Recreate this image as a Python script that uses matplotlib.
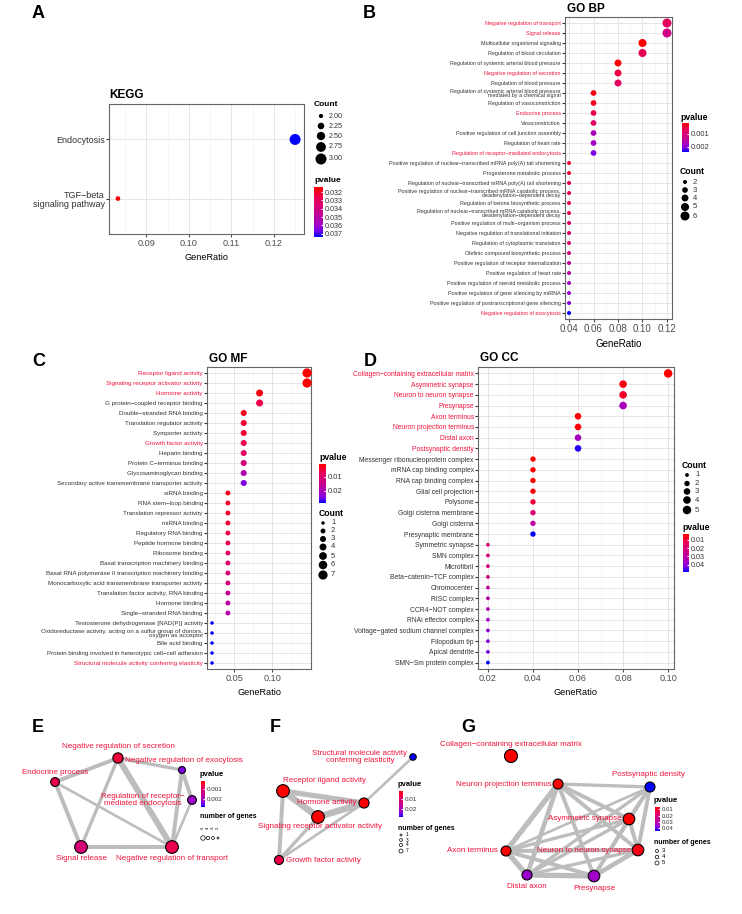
import numpy as np
import matplotlib
matplotlib.use('Agg')
import matplotlib.pyplot as plt
from matplotlib.colors import LinearSegmentedColormap, Normalize
import matplotlib.cm as cm

plt.rcParams['font.family'] = ['Liberation Sans', 'DejaVu Sans']

W, H = 742, 914
RED = '#f0143c'
cmap = LinearSegmentedColormap.from_list(
    'pv', [(0, '#ff0000'), (0.25, '#e6005f'), (0.5, '#c8008c'),
           (0.75, '#a000c8'), (0.875, '#7800e6'), (1, '#0000ff')])

# ---------------- data ----------------
kegg_terms = ['Endocytosis', 'TGF−beta\nsignaling pathway']
kegg_ratio = [0.125, 0.0833]
kegg_count = [3, 2]
kegg_p = [0.0374, 0.0314]

bp_terms = [
    'Negative regulation of transport', 'Signal release',
    'Multicellular organismal signaling', 'Regulation of blood circulation',
    'Regulation of systemic arterial blood pressure', 'Negative regulation of secretion',
    'Regulation of blood pressure',
    'Regulation of systemic arterial blood pressure\nmediated by a chemical signal',
    'Regulation of vasoconstriction', 'Endocrine process', 'Vasoconstriction',
    'Positive regulation of cell junction assembly', 'Regulation of heart rate',
    'Regulation of receptor−mediated endocytosis',
    'Positive regulation of nuclear−transcribed mRNA poly(A) tail shortening',
    'Progesterone metabolic process',
    'Regulation of nuclear−transcribed mRNA poly(A) tail shortening',
    'Positive regulation of nuclear−transcribed mRNA catabolic process,\ndeadenylation−dependent decay',
    'Regulation of ketone biosynthetic process',
    'Regulation of nuclear−transcribed mRNA catabolic process,\ndeadenylation−dependent decay',
    'Positive regulation of multi−organism process',
    'Negative regulation of translational initiation',
    'Regulation of cytoplasmic translation', 'Olefinic compound biosynthetic process',
    'Positive regulation of receptor internalization', 'Positive regulation of heart rate',
    'Positive regulation of steroid metabolic process',
    'Positive regulation of gene silencing by miRNA',
    'Positive regulation of postranscriptional gene silencing',
    'Negative regulation of exocytosis']
bp_count = [6, 6, 5, 5, 4, 4, 4, 3, 3, 3, 3, 3, 3, 3] + [2] * 16
bp_ratio = [c / 50 for c in bp_count]
bp_p = [0.00075, 0.0012, 0.0002, 0.0007, 0.0002, 0.0006, 0.0008, 0.0003, 0.0004,
        0.0007, 0.0008, 0.0017, 0.0018, 0.0021, 0.0005, 0.0005, 0.0006, 0.0006,
        0.0007, 0.0007, 0.0008, 0.0008, 0.0009, 0.0011, 0.0014, 0.0015, 0.0018,
        0.0019, 0.0020, 0.0024]
bp_red = ['Negative regulation of transport', 'Signal release',
          'Negative regulation of secretion', 'Endocrine process',
          'Regulation of receptor−mediated endocytosis',
          'Negative regulation of exocytosis']

mf_terms = [
    'Receptor ligand activity', 'Signaling receptor activator activity',
    'Hormone activity', 'G protein−coupled receptor binding',
    'Double−stranded RNA binding', 'Translation regulator activity',
    'Symporter activity', 'Growth factor activity', 'Heparin binding',
    'Protein C−terminus binding', 'Glycosaminoglycan binding',
    'Secondary active transmembrane transporter activity', 'siRNA binding',
    'RNA stem−loop binding', 'Translation repressor activity', 'miRNA binding',
    'Regulatory RNA binding', 'Peptide hormone binding', 'Ribosome binding',
    'Basal transcription machinery binding',
    'Basal RNA polymerase II transcription machinery binding',
    'Monocarboxylic acid transmembrane transporter activity',
    'Translation factor activity, RNA binding', 'Hormone binding',
    'Single−stranded RNA binding', 'Testosterone dehydrogenase [NAD(P)] activity',
    'Oxidoreductase activity, acting on a sulfur group of donors,\noxygen as acceptor',
    'Bile acid binding', 'Protein binding involved in heterotypic cell−cell adhesion',
    'Structural molecule activity conferring elasticity']
mf_count = [7, 7, 4, 4] + [3] * 8 + [2] * 13 + [1] * 5
mf_ratio = [c / 48 for c in mf_count]
mf_p = [0.0007, 0.0008, 0.002, 0.006, 0.003, 0.005, 0.005, 0.007, 0.008, 0.012,
        0.019, 0.025, 0.003, 0.004, 0.004, 0.005, 0.006, 0.007, 0.009, 0.010,
        0.011, 0.012, 0.016, 0.017, 0.018, 0.029, 0.029, 0.029, 0.029, 0.029]
mf_red = ['Receptor ligand activity', 'Signaling receptor activator activity',
          'Hormone activity', 'Growth factor activity',
          'Structural molecule activity conferring elasticity']

cc_terms = [
    'Collagen−containing extracellular matrix', 'Asymmetric synapse',
    'Neuron to neuron synapse', 'Presynapse', 'Axon terminus',
    'Neuron projection terminus', 'Distal axon', 'Postsynaptic density',
    'Messenger ribonucleoprotein complex', 'mRNA cap binding complex',
    'RNA cap binding complex', 'Glial cell projection', 'Polysome',
    'Golgi cisterna membrane', 'Golgi cisterna', 'Presynaptic membrane',
    'Symmetric synapse', 'SMN complex', 'Microfibril', 'Beta−catenin−TCF complex',
    'Chromocenter', 'RISC complex', 'CCR4−NOT complex', 'RNAi effector complex',
    'Voltage−gated sodium channel complex', 'Filopodium tip', 'Apical dendrite',
    'SMN−Sm protein complex']
cc_count = [5, 4, 4, 4, 3, 3, 3, 3] + [2] * 8 + [1] * 12
cc_ratio = [c / 50 for c in cc_count]
cc_p = [0.003, 0.006, 0.008, 0.035, 0.004, 0.004, 0.036, 0.047, 0.003, 0.003,
        0.003, 0.004, 0.010, 0.018, 0.030, 0.049, 0.020, 0.021, 0.023, 0.025,
        0.029, 0.032, 0.034, 0.036, 0.039, 0.041, 0.043, 0.049]
cc_red = cc_terms[:8]

# networks: node names, layout (panel pixels), edges with widths
e_nodes = ['Negative regulation of secretion', 'Negative regulation of exocytosis',
           'Endocrine process', 'Regulation of receptor−\nmediated endocytosis',
           'Signal release', 'Negative regulation of transport']
e_count = [4, 2, 3, 3, 6, 6]
e_p = [0.0006, 0.0024, 0.0007, 0.0021, 0.0012, 0.00075]
e_x = [118, 182, 55, 192, 81, 172]
e_y = [38, 50, 62, 80, 127, 127]
e_edges = [(0, 2, 3), (0, 4, 2.5), (0, 5, 4.5), (0, 1, 2.5), (2, 4, 3), (2, 5, 2),
           (4, 5, 3), (1, 5, 3), (1, 3, 3), (3, 5, 2)]

f_nodes = ['Structural molecule activity\nconferring elasticity', 'Receptor ligand activity',
           'Hormone activity', 'Signaling receptor activator activity',
           'Growth factor activity']
f_count = [1, 7, 4, 7, 3]
f_p = [0.029, 0.0007, 0.002, 0.0008, 0.007]
f_x = [173, 43, 124, 78, 39]
f_y = [37, 71, 83, 97, 140]
f_edges = [(1, 3, 5), (1, 2, 4), (2, 3, 5), (1, 4, 3), (3, 4, 2.5), (2, 4, 2),
           (2, 0, 2)]

g_nodes = ['Collagen−containing extracellular matrix', 'Neuron projection terminus',
           'Postsynaptic density', 'Asymmetric synapse', 'Axon terminus',
           'Neuron to neuron synapse', 'Distal axon', 'Presynapse']
g_count = [5, 3, 3, 4, 3, 4, 3, 4]
g_p = [0.003, 0.004, 0.047, 0.006, 0.004, 0.008, 0.036, 0.035]
g_x = [81, 128, 220, 199, 76, 208, 97, 164]
g_y = [36, 64, 67, 99, 131, 130, 155, 156]
g_edges = [(1, 2, 2.5), (1, 3, 3), (1, 4, 4), (1, 5, 3), (1, 6, 3.5), (1, 7, 3),
           (2, 3, 3), (2, 4, 2), (2, 5, 3), (2, 6, 2.5), (2, 7, 2.5), (3, 4, 2.5),
           (3, 5, 3), (3, 6, 2.5), (3, 7, 3), (4, 5, 3), (4, 6, 4), (4, 7, 3),
           (5, 6, 2.5), (5, 7, 3.5), (6, 7, 4)]

# ---------------- figure ----------------
fig = plt.figure(figsize=(W / 100, H / 100), dpi=100)


def px_axes(x0, y0, x1, y1):
    return fig.add_axes([x0 / W, 1 - y1 / H, (x1 - x0) / W, (y1 - y0) / H])


def dot_area(count, cmin, cmax, dmin, dmax):
    frac = (np.asarray(count, float) - cmin) / (cmax - cmin)
    d = np.sqrt(dmin ** 2 + frac * (dmax ** 2 - dmin ** 2))
    return (d * 0.72) ** 2


def dotplot(box, terms, ratio, count, pval, red, xlim, xticks, minor, fs, tfs, sz, ls=0.75):
    ax = px_axes(*box)
    n = len(terms)
    y = n - 1 - np.arange(n)
    norm = Normalize(min(pval), max(pval))
    ax.scatter(ratio, y, s=dot_area(count, *sz), c=pval, cmap=cmap, norm=norm,
               lw=0, zorder=3, clip_on=False)
    ax.set_xlim(*xlim)
    ax.set_ylim(-0.6, n - 0.4)
    ax.set_yticks(y)
    ax.set_yticklabels(terms, fontsize=fs, linespacing=ls)
    for lab, t in zip(ax.get_yticklabels(), terms):
        lab.set_color(RED if t in red else '#333333')
    ax.set_xticks(xticks)
    ax.set_xticks(minor, minor=True)
    ax.tick_params(axis='x', which='minor', length=0)
    ax.tick_params(axis='y', length=2, pad=1, color='#333333')
    ax.tick_params(axis='x', length=2, pad=1.5, labelsize=tfs, colors='#4d4d4d')
    ax.grid(which='major', color='#e6e6e6', lw=0.7)
    ax.grid(which='minor', axis='x', color='#f2f2f2', lw=0.4)
    ax.set_axisbelow(True)
    for s in ax.spines.values():
        s.set_color('#666666')
        s.set_linewidth(0.8)
    ax.set_xlabel('GeneRatio', fontsize=tfs, labelpad=4)
    return norm


def cbar(box, norm, ticks, labels, fs):
    cax = px_axes(*box)
    cb = fig.colorbar(cm.ScalarMappable(norm=norm, cmap=cmap), cax=cax)
    cb.outline.set_visible(False)
    cax.invert_yaxis()
    cb.set_ticks(ticks)
    cb.set_ticklabels(labels)
    cax.tick_params(length=1.5, direction='in', color='white', labelsize=fs, pad=1.5,
                    labelcolor='#333333')


ov = fig.add_axes([0, 0, 1, 1], zorder=10)
ov.set_xlim(0, W)
ov.set_ylim(H, 0)
ov.axis('off')


def size_legend(x, ys, counts, labels, sz, lx, fs):
    ov.scatter([x] * len(ys), ys, s=dot_area(counts, *sz), color='black', lw=0)
    for yy, lb in zip(ys, labels):
        ov.text(lx, yy, lb, fontsize=fs, va='center', color='#333333')


# Panel A
nA = dotplot((109, 104, 304, 234), kegg_terms, kegg_ratio, kegg_count, kegg_p, [],
             (0.0812, 0.1271), [0.09, 0.10, 0.11, 0.12],
             [0.085, 0.095, 0.105, 0.115, 0.125], 6.5, 6.6, (2, 3, 4.7, 11), ls=1.1)
ov.text(109, 95, 'KEGG', fontsize=8.5, fontweight='bold', va='center')
ov.text(314, 104, 'Count', fontsize=6, fontweight='bold', va='center')
size_legend(321, [116, 126, 136, 147, 159], [2, 2.25, 2.5, 2.75, 3],
            ['2.00', '2.25', '2.50', '2.75', '3.00'], (2, 3, 4.2, 11), 329, 5.2)
ov.text(314, 180, 'pvalue', fontsize=6, fontweight='bold', va='center')
cbar((314, 187, 323, 237), nA, [0.032, 0.033, 0.034, 0.035, 0.036, 0.037],
     ['0.032', '0.033', '0.034', '0.035', '0.036', '0.037'], 5.2)

# Panel B
nB = dotplot((565, 17, 672, 319), bp_terms, bp_ratio, bp_count, bp_p, bp_red,
             (0.0367, 0.1241), [0.04, 0.06, 0.08, 0.10, 0.12],
             [0.05, 0.07, 0.09, 0.11], 3.9, 7, (2, 6, 4, 9))
ov.text(567, 9, 'GO BP', fontsize=8.5, fontweight='bold', va='center')
ov.text(680, 117, 'pvalue', fontsize=6.2, fontweight='bold', va='center')
cbar((682, 123, 689, 152), nB, [0.001, 0.002], ['0.001', '0.002'], 5.5)
ov.text(680, 172, 'Count', fontsize=6.2, fontweight='bold', va='center')
size_legend(685, [182, 190, 198, 207, 216], [2, 3, 4, 5, 6], ['2', '3', '4', '5', '6'],
            (2, 6, 4, 9), 693, 5.5)

# Panel C
nC = dotplot((207, 367, 311, 669), mf_terms, mf_ratio, mf_count, mf_p, mf_red,
             (0.0142, 0.151), [0.05, 0.10], [0.025, 0.075, 0.125], 4.5, 6.6,
             (1, 7, 3.5, 9.2))
ov.text(209, 359, 'GO MF', fontsize=8.5, fontweight='bold', va='center')
ov.text(319, 458, 'pvalue', fontsize=6.2, fontweight='bold', va='center')
cbar((319, 464, 326, 503), nC, [0.01, 0.02], ['0.01', '0.02'], 5.5)
ov.text(319, 514, 'Count', fontsize=6.2, fontweight='bold', va='center')
size_legend(323, [523, 531, 539, 547, 556, 565, 575], [1, 2, 3, 4, 5, 6, 7],
            ['1', '2', '3', '4', '5', '6', '7'], (1, 7, 3.5, 9.2), 331, 5.5)

# Panel D
nD = dotplot((478, 367, 674, 669), cc_terms, cc_ratio, cc_count, cc_p, cc_red,
             (0.0156, 0.1026), [0.02, 0.04, 0.06, 0.08, 0.10],
             [0.03, 0.05, 0.07, 0.09], 4.9, 6.6, (1, 5, 3.8, 8.5))
ov.text(480, 358, 'GO CC', fontsize=8.5, fontweight='bold', va='center')
ov.text(682, 466, 'Count', fontsize=6.2, fontweight='bold', va='center')
size_legend(687, [475, 483.5, 491.5, 500, 510], [1, 2, 3, 4, 5], ['1', '2', '3', '4', '5'],
            (1, 5, 3.8, 8.5), 695, 5.5)
ov.text(682, 527, 'pvalue', fontsize=6.2, fontweight='bold', va='center')
cbar((683, 534, 689, 572), nD, [0.01, 0.02, 0.03, 0.04], ['0.01', '0.02', '0.03', '0.04'], 5.2)


# Networks
def network(box, names, count, pval, xs, ys, edges, vlim, sz, labels):
    ax = px_axes(*box)
    ax.set_xlim(0, box[2] - box[0])
    ax.set_ylim(box[3] - box[1], 0)
    ax.axis('off')
    ax.patch.set_alpha(0)
    for i, j, w in edges:
        ax.plot([xs[i], xs[j]], [ys[i], ys[j]], color='#bdbdbd', lw=w * 0.95,
                solid_capstyle='butt', zorder=1)
    norm = Normalize(*vlim)
    ax.scatter(xs, ys, s=dot_area(count, *sz), c=np.clip(pval, *vlim), cmap=cmap,
               norm=norm, edgecolors='black', linewidths=0.8, zorder=3)
    for name, (lx, ly, ha) in zip(names, labels):
        ax.text(lx, ly, name, fontsize=5.8, color=RED, ha=ha, va='center',
                linespacing=1.0, zorder=4)
    return norm


nE = network((0, 720, 250, 914), e_nodes, e_count, e_p, e_x, e_y, e_edges,
             (0.0002, 0.0028), (2, 6, 7, 12.7),
             [(118, 27, 'center'), (125, 41, 'left'), (55, 52, 'center'),
              (143, 80, 'center'), (81, 138, 'center'), (172, 138, 'center')])
nF = network((240, 720, 440, 914), f_nodes, f_count, f_p, f_x, f_y, f_edges,
             (0.002, 0.028), (1, 7, 6.5, 12.7),
             [(120, 37, 'center'), (85, 61, 'center'), (87, 83, 'center'),
              (80, 106, 'center'), (46, 140, 'left')])
nG = network((430, 720, 742, 914), g_nodes, g_count, g_p, g_x, g_y, g_edges,
             (0.006, 0.045), (3, 5, 10, 13),
             [(81, 25, 'center'), (122, 64, 'right'), (219, 55, 'center'),
              (192, 99, 'right'), (68, 131, 'right'), (201, 130, 'right'),
              (97, 167, 'center'), (164, 169, 'center')])

# network legends
ov.text(200, 775, 'pvalue', fontsize=5.5, fontweight='bold', va='center')
cbar((201, 781, 205, 807), nE, [0.001, 0.002], ['0.001', '0.002'], 4.5)
ov.text(200, 817, 'number of genes', fontsize=5, fontweight='bold', va='center')
ov.scatter([203, 208, 213, 218], [838] * 4, s=dot_area([6, 4, 3, 2], 2, 6, 2, 4.5),
           facecolor='white', edgecolor='black', lw=0.5)
for xx, lb in zip([203, 208, 213, 218], ['6', '4', '3', '2']):
    ov.text(xx, 828, lb, fontsize=3.2, rotation=90, ha='center', va='center')

ov.text(398, 785, 'pvalue', fontsize=5.5, fontweight='bold', va='center')
cbar((399, 791, 403, 817), nF, [0.01, 0.02], ['0.01', '0.02'], 4.5)
ov.text(398, 828, 'number of genes', fontsize=5, fontweight='bold', va='center')
ov.scatter([401] * 4, [835, 840, 845, 851], s=dot_area([1, 3, 4, 7], 1, 7, 2, 4),
           facecolor='white', edgecolor='black', lw=0.5)
for yy, lb in zip([835, 840, 845, 851], ['1', '3', '4', '7']):
    ov.text(406, yy, lb, fontsize=3.5, va='center')

ov.text(654, 801, 'pvalue', fontsize=5.5, fontweight='bold', va='center')
cbar((655, 807, 660, 831), nG, [0.01, 0.02, 0.03, 0.04],
     ['0.01', '0.02', '0.03', '0.04'], 4.3)
ov.text(654, 843, 'number of genes', fontsize=5, fontweight='bold', va='center')
ov.scatter([657] * 3, [851, 857, 863], s=dot_area([3, 4, 5], 3, 5, 3, 4),
           facecolor='white', edgecolor='black', lw=0.5)
for yy, lb in zip([851, 857, 863], ['3', '4', '5']):
    ov.text(662, yy, lb, fontsize=4.3, va='center')

# panel letters
for lt, x, y in [('A', 38, 13), ('B', 369, 13), ('C', 39, 361), ('D', 370, 361),
                 ('E', 38, 727), ('F', 275, 727), ('G', 468, 727)]:
    ov.text(x, y, lt, fontsize=13, fontweight='bold', ha='center', va='center')

fig.savefig('out.png', dpi=100)
